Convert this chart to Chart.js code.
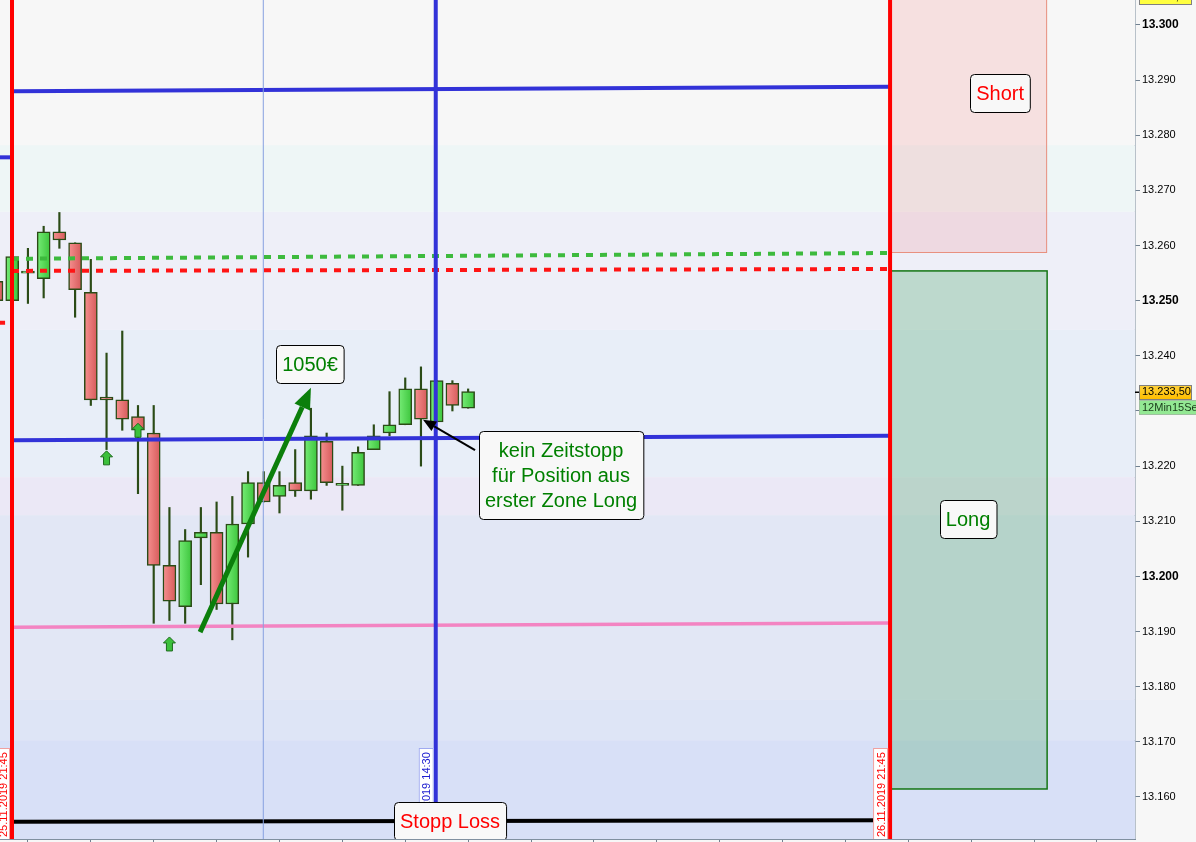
<!DOCTYPE html>
<html>
<head>
<meta charset="utf-8">
<script src="https://cdn.jsdelivr.net/npm/chart.js@4.4.1/dist/chart.umd.min.js"></script>
<style>
html, body { margin: 0; padding: 0; background: #f7f7f7; }
#wrap { width: 1196px; height: 842px; position: relative; }
</style>
</head>
<body>
<div id="wrap"><canvas id="charDax"></canvas></div>
<script>
/* Kerzen 15 Min */
const candleIdx = [0,1,2,3,4,5,6,7,8,9,10,11,12,13,14,15,16,17,18,19,20,21,22,23,24,25,26,27,28,29,30];
const openVals  = [13253.5,13250,13255,13254,13262.5,13260.5,13251.5,13232.5,13232,13229,13226,13202,13194.5,13207,13208,13195,13209.5,13217,13214.5,13217,13215.5,13224.5,13216.5,13216.5,13223,13226,13227.5,13234,13228,13235,13230.5];
const highVals  = [13256,13259,13259.5,13263.5,13266,13260.5,13257.5,13240.5,13244.5,13231,13231,13212.5,13208.5,13212.5,13213.5,13214.5,13219,13219,13219,13223,13230.5,13226,13220,13223.5,13227.5,13233.5,13236,13238,13235.5,13235.5,13234];
const lowVals   = [13249,13249.5,13249.5,13250.5,13259.5,13247,13231,13223,13226.5,13215,13191.5,13192,13191.5,13198.5,13194,13188.5,13203.5,13213.5,13211.5,13214.5,13214,13216.5,13212,13216.5,13223,13225.5,13227.5,13220,13228,13230,13230.5];
const closeVals = [13250,13258,13255,13262.5,13261,13252,13232,13232,13228.5,13226.5,13202,13195.5,13206.5,13208,13195,13209.5,13217,13213.5,13216.5,13215.5,13225.5,13217,13216.5,13222.5,13225.5,13227.5,13234,13228.5,13235.5,13231,13233.5];

/* Achsen */
const xMin = 0.2226, xMax = 72.42;
const yMin = 13152.38, yMax = 13304.53;
const yTickVals = [13160,13170,13180,13190,13200,13210,13220,13230,13240,13250,13260,13270,13280,13290,13300];
const xTickVals = [2,6,10,14,18,22,26,30,34,38,42,46,50,54,58,62,66,70];

/* Linien */
const hLineT0    = [0.986, 0.986, 0.986, 0.986, 0.986, 0.986, 0.1, 0.1];
const hLineT1    = [56.84, 56.84, 56.84, 56.84, 56.84, 56.84, 0.986, 0.92];
const hLineStart = [13288, 13224.7, 13257.6, 13255.4, 13190.8, 13155.5, 13276, 13246];
const hLineEnd   = [13288.8, 13225.5, 13258.65, 13255.75, 13191.55, 13155.8, 13276, 13246];
const hLineColors = ['#3232d8', '#3232d8', '#3dba3d', '#ff1414', '#f384c2', '#000000', '#3232d8', '#ff1414'];
const hLineDash   = [[], [], [7, 7], [7, 7], [], [], [], [7, 7]];

const vLineX      = [0.986, 16.97, 27.94, 56.84];
const vLineColors = ['#ff0000', '#86a0e0', '#3232d8', '#ff0000'];
const vLineWidths = [4, 1, 4, 4];

const dateLabels    = ['25.11.2019 21:45', '26.11.2019 14:30', '26.11.2019 21:45'];
const dateLabelX    = [0.986, 27.94, 56.84];
const dateLabelCols = ['#ff0000', '#2020d0', '#ff0000'];
const dateLabelBord = ['#f0a0a0', '#a0aaf0', '#f0a0a0'];

/* Hintergrund und Zonen */
const bandEdges  = [13310, 13278.2, 13266.1, 13244.7, 13218, 13211.1, 13177.6, 13170.3, 13140];
const bandColors = ['#f7f7f7', '#eef6f6', '#eeeff8', '#e8eef8', '#ebe8f6', '#e2e7f5', '#dee5f6', '#d8e0f7'];
const zoneTimes  = [56.84, 66.83];
const shortZone  = [13310, 13258.65];
const longZone   = [13255.4, 13161.45];

/* Notizen, Pfeile */
const noteLines  = [['1050€'], ['kein Zeitstopp', 'für Position aus', 'erster Zone Long'], ['Short'], ['Long'], ['Stopp Loss']];
const noteX      = [19.94, 35.91, 63.84, 61.8, 28.85];
const noteY      = [13238.5, 13218.3, 13287.6, 13210.4, 13155.6];
const noteColors = ['#008000', '#008000', '#ff0000', '#008000', '#ff0000'];

const profitArrow = [12.95, 13189.9, 20.0, 13234.2];
const noteArrow   = [30.44, 13222.9, 27.13, 13228.4];
const signalIdx   = [7, 9, 11];
const signalPrice = [13221.5, 13226.5, 13187.75];
const timerText   = '12Min15Sek';
const topQuote    = 13305;

const FONT = '"Liberation Sans", Arial, sans-serif';
Chart.defaults.font.family = FONT;

bodyFill = (c) => {
    const xs = c.chart.scales.x;
    const k = c.dataIndex;
    const up = closeVals[k] >= openVals[k];
    if (c.type !== 'data' || !xs || !isFinite(xs.getPixelForValue(1))) return up ? '#55d855' : '#e87070';
    const px = xs.getPixelForValue(candleIdx[k]);
    const g = c.chart.ctx.createLinearGradient(px - 6.5, 0, px + 6.5, 0);
    g.addColorStop(0, up ? '#76ec76' : '#f69090');
    g.addColorStop(1, up ? '#3cc53c' : '#d65a5a');
    return g;
};

roundBox = (ctx, x, y, w, h, r) => {
    ctx.beginPath();
    ctx.moveTo(x + r, y);
    ctx.lineTo(x + w - r, y);
    ctx.quadraticCurveTo(x + w, y, x + w, y + r);
    ctx.lineTo(x + w, y + h - r);
    ctx.quadraticCurveTo(x + w, y + h, x + w - r, y + h);
    ctx.lineTo(x + r, y + h);
    ctx.quadraticCurveTo(x, y + h, x, y + h - r);
    ctx.lineTo(x, y + r);
    ctx.quadraticCurveTo(x, y, x + r, y);
    ctx.closePath();
};

drawArrow = (ctx, x0, y0, x1, y1, color, width, headLen, headW) => {
    const a = Math.atan2(y1 - y0, x1 - x0);
    const bx = x1 - headLen * Math.cos(a), by = y1 - headLen * Math.sin(a);
    ctx.strokeStyle = color;
    ctx.lineWidth = width;
    ctx.beginPath(); ctx.moveTo(x0, y0); ctx.lineTo(bx, by); ctx.stroke();
    ctx.fillStyle = color;
    ctx.beginPath();
    ctx.moveTo(x1, y1);
    ctx.lineTo(bx + headW / 2 * Math.sin(a), by - headW / 2 * Math.cos(a));
    ctx.lineTo(bx - headW / 2 * Math.sin(a), by + headW / 2 * Math.cos(a));
    ctx.closePath();
    ctx.fill();
};

// keine Randpolster der Achsen
noPad = (s) => { s.paddingTop = 0; s.paddingBottom = 0; s.paddingLeft = 0; s.paddingRight = 0; };

const overlay = {
    id: 'overlay',
    beforeDatasetsDraw(chart) {
        const { ctx, chartArea: a, scales: { x, y } } = chart;
        ctx.save();
        ctx.beginPath(); ctx.rect(a.left, a.top, a.width, a.height); ctx.clip();
        for (let i = 0; i < bandColors.length; i++) {
            const y0 = y.getPixelForValue(bandEdges[i]);
            const y1 = y.getPixelForValue(bandEdges[i + 1]);
            ctx.fillStyle = bandColors[i];
            ctx.fillRect(a.left, y0, a.width, y1 - y0);
        }
        const zx0 = x.getPixelForValue(zoneTimes[0]), zx1 = x.getPixelForValue(zoneTimes[1]);
        // Short
        let t = y.getPixelForValue(shortZone[0]), b = y.getPixelForValue(shortZone[1]);
        ctx.fillStyle = 'rgba(245,105,105,0.16)';
        ctx.fillRect(zx0, t, zx1 - zx0, b - t);
        ctx.strokeStyle = '#e8907f'; ctx.lineWidth = 1;
        ctx.strokeRect(zx0 + 0.5, t + 0.5, zx1 - zx0 - 1, b - t - 1);
        // Long
        t = y.getPixelForValue(longZone[0]); b = y.getPixelForValue(longZone[1]);
        ctx.fillStyle = 'rgba(60,160,90,0.27)';
        ctx.fillRect(zx0, t, zx1 - zx0, b - t);
        ctx.strokeStyle = '#137513'; ctx.lineWidth = 1.5;
        ctx.strokeRect(zx0, t, zx1 - zx0, b - t);
        ctx.restore();
    },
    afterDatasetsDraw(chart) {
        const { ctx, chartArea: a, scales: { x, y } } = chart;
        ctx.save();
        ctx.beginPath(); ctx.rect(a.left, a.top, a.width, a.height); ctx.clip();

        // Signalpfeile
        for (let k = 0; k < signalIdx.length; k++) {
            const cx = x.getPixelForValue(signalIdx[k]), cy = y.getPixelForValue(signalPrice[k]);
            ctx.beginPath();
            ctx.moveTo(cx, cy - 7);
            ctx.lineTo(cx + 6, cy - 1);
            ctx.lineTo(cx + 3, cy - 1);
            ctx.lineTo(cx + 3, cy + 7);
            ctx.lineTo(cx - 3, cy + 7);
            ctx.lineTo(cx - 3, cy - 1);
            ctx.lineTo(cx - 6, cy - 1);
            ctx.closePath();
            ctx.fillStyle = '#3cc03c'; ctx.fill();
            ctx.strokeStyle = '#1d6b1d'; ctx.lineWidth = 1; ctx.stroke();
        }

        // Pfeile
        drawArrow(ctx, x.getPixelForValue(profitArrow[0]), y.getPixelForValue(profitArrow[1]),
            x.getPixelForValue(profitArrow[2]), y.getPixelForValue(profitArrow[3]), '#0b7f0b', 5, 21, 17);
        drawArrow(ctx, x.getPixelForValue(noteArrow[0]), y.getPixelForValue(noteArrow[1]),
            x.getPixelForValue(noteArrow[2]), y.getPixelForValue(noteArrow[3]), '#000000', 2, 13, 11);

        // Datumslabels an den senkrechten Linien
        ctx.font = '11px ' + FONT;
        for (let k = 0; k < dateLabels.length; k++) {
            const lx = x.getPixelForValue(dateLabelX[k]);
            const bx = lx - 2 - 15, by = a.bottom - 91;
            ctx.fillStyle = '#ffffff';
            ctx.fillRect(bx, by, 15, 95);
            ctx.strokeStyle = dateLabelBord[k]; ctx.lineWidth = 1;
            ctx.strokeRect(bx + 0.5, by + 0.5, 14, 95);
            ctx.save();
            ctx.translate(bx + 11.5, a.bottom - 2);
            ctx.rotate(-Math.PI / 2);
            ctx.fillStyle = dateLabelCols[k];
            ctx.textAlign = 'left';
            ctx.textBaseline = 'alphabetic';
            ctx.fillText(dateLabels[k], 0, 0);
            ctx.restore();
        }

        // Notizen
        ctx.font = '20px ' + FONT;
        for (let k = 0; k < noteLines.length; k++) {
            const lines = noteLines[k];
            const w = Math.max(...lines.map(s => ctx.measureText(s).width)) + 12;
            const h = lines.length * 25 + 13;
            const cx = x.getPixelForValue(noteX[k]), cy = y.getPixelForValue(noteY[k]);
            const bx = Math.round(cx - w / 2) + 0.5, by = Math.round(cy - h / 2) + 0.5;
            roundBox(ctx, bx, by, w, h, 4);
            ctx.fillStyle = '#f8f8f8'; ctx.fill();
            ctx.strokeStyle = '#000'; ctx.lineWidth = 1; ctx.stroke();
            ctx.fillStyle = noteColors[k];
            ctx.textAlign = 'center';
            ctx.textBaseline = 'middle';
            lines.forEach((s, j) => ctx.fillText(s, cx, by + 6.5 + 12.5 + j * 25 + 1));
        }
        ctx.restore();
    },
    afterDraw(chart) {
        const { ctx, chartArea: a, scales: { y } } = chart;
        const last = closeVals[closeVals.length - 1];
        const py = Math.round(y.getPixelForValue(last));
        ctx.save();
        ctx.font = '11px ' + FONT;
        ctx.textBaseline = 'middle';
        ctx.textAlign = 'left';
        // oberes Kurslabel (angeschnitten)
        const ty = Math.round(y.getPixelForValue(topQuote));
        ctx.fillStyle = '#ffff40';
        ctx.fillRect(a.right + 4, ty - 7, 52, 14);
        ctx.strokeStyle = '#808080'; ctx.strokeRect(a.right + 4.5, ty - 6.5, 52, 14);
        ctx.fillStyle = '#000';
        ctx.fillText(topQuote.toLocaleString('de-DE', { minimumFractionDigits: 2 }), a.right + 7, ty);
        // letzter Kurs
        const g = ctx.createLinearGradient(0, py - 7, 0, py + 7);
        g.addColorStop(0, '#ffd23c'); g.addColorStop(1, '#ffbe00');
        ctx.fillStyle = g;
        ctx.fillRect(a.right + 4, py - 7, 52, 14);
        ctx.strokeStyle = '#808080'; ctx.strokeRect(a.right + 4.5, py - 6.5, 52, 14);
        ctx.fillStyle = '#000';
        ctx.fillText(last.toLocaleString('de-DE', { minimumFractionDigits: 2 }), a.right + 7, py);
        // Restzeit
        ctx.fillStyle = '#93e893';
        ctx.fillRect(a.right + 4, py + 8, 70, 14);
        ctx.strokeStyle = '#a0c0a0'; ctx.strokeRect(a.right + 4.5, py + 8.5, 70, 14);
        ctx.fillStyle = '#1a3a1a';
        ctx.fillText(timerText, a.right + 7, py + 15.5);
        ctx.fillStyle = '#000';
        ctx.fillRect(a.right, py - 0.5, 4, 1.5);
        ctx.restore();
    }
};

const datasets = [];
datasets.push({
    type: 'bar',
    data: candleIdx.map((t, k) => ({ x: t, y: [openVals[k], closeVals[k]] })),
    backgroundColor: bodyFill,
    borderColor: '#2b4b16',
    borderWidth: 1.5,
    borderSkipped: false,
    barThickness: 13,
    minBarLength: 2,
    grouped: false,
    order: 10,
});
datasets.push({
    type: 'bar',
    data: candleIdx.map((t, k) => ({ x: t, y: [lowVals[k], highVals[k]] })),
    backgroundColor: '#2b4b16',
    borderWidth: 0,
    barThickness: 1.5,
    grouped: false,
    order: 11,
});
for (let k = 0; k < hLineStart.length; k++) {
    datasets.push({
        type: 'line',
        data: [{ x: hLineT0[k], y: hLineStart[k] }, { x: hLineT1[k], y: hLineEnd[k] }],
        borderColor: hLineColors[k],
        borderWidth: k === 4 ? 3.5 : 4,
        borderDash: hLineDash[k],
        borderCapStyle: 'butt',
        pointRadius: 0,
        fill: false,
        order: 5,
    });
}
for (let k = 0; k < vLineX.length; k++) {
    datasets.push({
        type: 'line',
        data: [{ x: vLineX[k], y: yMin - 5 }, { x: vLineX[k], y: yMax + 5 }],
        borderColor: vLineColors[k],
        borderWidth: vLineWidths[k],
        pointRadius: 0,
        fill: false,
        order: 2,
    });
}

const cdx = document.getElementById('charDax');
const charDax = new Chart(cdx, {
    type: 'bar',
    data: { datasets: datasets },
    options: {
        responsive: true,
        maintainAspectRatio: false,
        animation: false,
        layout: { padding: 0 },
        scales: {
            x: {
                type: 'linear',
                min: xMin,
                max: xMax,
                offset: false,
                afterBuildTicks: (s) => { s.ticks = xTickVals.map(v => ({ value: v })); },
                afterFit: (s) => { s.height = 3; noPad(s); },
                ticks: { display: false },
                grid: { drawOnChartArea: false, offset: false, tickLength: 3, color: '#708090' },
                border: { color: '#8090a0', width: 1 },
            },
            y: {
                position: 'right',
                min: yMin,
                max: yMax,
                afterBuildTicks: (s) => { s.ticks = yTickVals.map(v => ({ value: v })); },
                afterFit: (s) => { s.width = 61; noPad(s); },
                ticks: {
                    color: '#000',
                    padding: 2,
                    font: (c) => (c.tick && c.tick.value % 50 === 0)
                        ? { family: FONT, size: 12, weight: 'bold' }
                        : { family: FONT, size: 11, weight: 'normal' },
                    callback: (v) => v.toLocaleString('de-DE'),
                },
                grid: { drawOnChartArea: false, tickLength: 5, color: '#708090' },
                border: { color: '#7b8b9b', width: 1.5 },
            },
        },
        plugins: {
            legend: { display: false },
            tooltip: { enabled: false },
        },
    },
    plugins: [overlay],
});
</script>
</body>
</html>
